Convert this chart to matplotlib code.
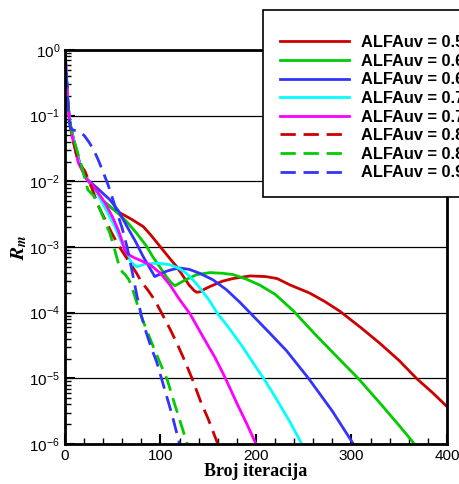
import numpy as np
import matplotlib
matplotlib.use("Agg")
import matplotlib.pyplot as plt
from matplotlib.ticker import LogLocator, MultipleLocator, NullFormatter

plt.rcParams['font.family'] = ['Liberation Sans', 'DejaVu Sans']
plt.rcParams['mathtext.fontset'] = 'custom'
plt.rcParams['mathtext.rm'] = 'Liberation Sans'
plt.rcParams['mathtext.it'] = 'Liberation Sans:italic'
plt.rcParams['mathtext.bf'] = 'Liberation Sans:bold'

# data: iteration and log10 of residual
labels = ['ALFAuv = 0.55', 'ALFAuv = 0.60', 'ALFAuv = 0.65', 'ALFAuv = 0.70',
          'ALFAuv = 0.75', 'ALFAuv = 0.80', 'ALFAuv = 0.85', 'ALFAuv = 0.90']

x_055 = [0, 1, 3, 5, 8, 12, 16, 22, 30, 40, 50, 60, 70, 82, 90, 100, 110, 117, 124, 130, 135, 138,
         142, 145, 152, 165, 176, 194, 210, 222, 236, 256, 272, 288, 310, 330, 350, 368, 385, 400]
r_055 = [0, -0.3, -0.8, -1.1, -1.3, -1.55, -1.75, -1.95, -2.1, -2.3, -2.42, -2.5, -2.58, -2.69,
         -2.82, -3.0, -3.18, -3.30, -3.45, -3.58, -3.66, -3.69, -3.68, -3.65, -3.60, -3.52, -3.48,
         -3.44, -3.45, -3.48, -3.58, -3.70, -3.83, -3.98, -4.23, -4.47, -4.73, -5.0, -5.22, -5.43]

x_060 = [0, 1, 3, 5, 8, 12, 16, 22, 30, 40, 47, 55, 65, 75, 85, 92, 100, 106, 111, 115, 120,
         126, 138, 152, 165, 176, 190, 204, 220, 239, 260, 280, 307, 330, 350, 366]
r_060 = [0, -0.3, -0.8, -1.1, -1.3, -1.55, -1.75, -1.95, -2.1, -2.3, -2.38, -2.48, -2.62, -2.79,
         -2.98, -3.15, -3.32, -3.45, -3.54, -3.59, -3.55, -3.50, -3.42, -3.39, -3.40, -3.42, -3.49,
         -3.58, -3.72, -3.97, -4.3, -4.6, -5.0, -5.38, -5.72, -6.0]

x_065 = [0, 1, 3, 5, 8, 12, 16, 24, 35, 47, 56, 65, 74, 82, 90, 94, 100, 106, 113, 120, 130,
         141, 155, 169, 183, 197, 215, 232, 255, 280, 302]
r_065 = [0, -0.3, -0.8, -1.1, -1.3, -1.6, -1.75, -1.98, -2.12, -2.28, -2.45, -2.69, -2.92, -3.15,
         -3.35, -3.45, -3.41, -3.37, -3.34, -3.32, -3.34, -3.40, -3.50, -3.65, -3.84, -4.05, -4.32,
         -4.58, -5.0, -5.5, -6.0]

x_070 = [0, 1, 3, 5, 8, 12, 16, 24, 35, 45, 52, 58, 66, 70, 75, 84, 92, 100, 110, 120, 127, 134,
         141, 151, 160, 170, 185, 200, 208, 220, 235, 248]
r_070 = [0, -0.3, -0.8, -1.1, -1.3, -1.6, -1.75, -1.98, -2.21, -2.49, -2.68, -2.89, -3.15, -3.24,
         -3.30, -3.26, -3.25, -3.25, -3.27, -3.33, -3.40, -3.50, -3.62, -3.81, -4.02, -4.2, -4.5,
         -4.83, -5.0, -5.28, -5.65, -6.0]

x_075 = [0, 1, 3, 5, 8, 14, 22, 28, 35, 42, 50, 56, 60, 63, 66, 72, 80, 90, 100, 110, 120, 131,
         145, 157, 168, 180, 190, 200]
r_075 = [0, -0.3, -0.8, -1.1, -1.35, -1.72, -1.95, -2.05, -2.18, -2.33, -2.55, -2.75, -2.92,
         -3.07, -3.11, -3.16, -3.21, -3.28, -3.40, -3.58, -3.80, -4.02, -4.38, -4.68, -5.0, -5.38,
         -5.68, -6.0]

x_080 = [0, 1, 3, 5, 8, 14, 21, 28, 35, 42, 49, 57, 66, 75, 80, 87, 94, 101, 110, 117, 125, 133,
         142, 150, 160]
r_080 = [0, -0.3, -0.8, -1.1, -1.35, -1.7, -1.85, -2.1, -2.38, -2.58, -2.79, -3.0, -3.2, -3.40,
         -3.53, -3.66, -3.81, -4.0, -4.25, -4.46, -4.72, -5.0, -5.35, -5.62, -6.0]

x_085 = [0, 1, 3, 5, 8, 12, 18, 24, 30, 36, 42, 47, 51, 56, 60, 63, 67, 72, 78, 85, 92, 100, 107,
         115, 122, 128]
r_085 = [0, -0.3, -0.8, -1.1, -1.3, -1.5, -1.8, -2.13, -2.22, -2.4, -2.62, -2.79, -2.99, -3.25,
         -3.38, -3.42, -3.5, -3.7, -3.98, -4.25, -4.5, -4.78, -5.02, -5.4, -5.72, -6.0]

x_090 = [0, 1, 2, 3, 4, 6, 9, 14, 20, 25, 30, 35, 40, 45, 50, 55, 60, 65, 70, 75, 80, 85, 90, 96,
         101, 106, 112, 120]
r_090 = [0, -0.25, -0.5, -0.8, -1.05, -1.2, -1.22, -1.24, -1.3, -1.4, -1.52, -1.68, -1.86, -2.05,
         -2.27, -2.5, -2.72, -3.0, -3.35, -3.72, -4.05, -4.3, -4.52, -4.75, -5.0, -5.25, -5.55, -6.0]

xs = [x_055, x_060, x_065, x_070, x_075, x_080, x_085, x_090]
rs = [r_055, r_060, r_065, r_070, r_075, r_080, r_085, r_090]
colors = ['#cc0000', '#00cc00', '#3333ff', '#00ffff', '#ff00ff', '#cc0000', '#00cc00', '#3333ff']
styles = ['-', '-', '-', '-', '-', '--', '--', '--']

fig = plt.figure(figsize=(4.6, 4.84), dpi=100)
ax = fig.add_axes([0.1413, 0.0826, 0.8304, 0.8141])

for x, r, c, ls, lab in zip(xs, rs, colors, styles, labels):
    line, = ax.plot(x, 10.0 ** np.array(r), color=c, lw=2.0, ls=ls, label=lab)
    if ls == '--':
        line.set_dashes([5.5, 2.8])

ax.set_yscale('log')
ax.set_xlim(0, 400)
ax.set_ylim(1e-6, 1)
ax.yaxis.set_major_locator(LogLocator(base=10, numticks=10))
ax.yaxis.set_minor_locator(LogLocator(base=10, subs=np.arange(2, 10), numticks=10))
ax.yaxis.set_minor_formatter(NullFormatter())
ax.xaxis.set_major_locator(MultipleLocator(100))
ax.xaxis.set_minor_locator(MultipleLocator(20))
ax.tick_params(which='both', direction='in', top=False, right=False, width=1.5, labelsize=11)
ax.tick_params(which='major', length=7)
ax.tick_params(which='minor', length=4, width=1)
ax.grid(axis='y', which='major', color='black', lw=0.9)
for s in ax.spines.values():
    s.set_linewidth(2)

ax.set_xlabel('Broj iteracija', family='Liberation Serif', fontweight='bold', fontsize=13, labelpad=0)
ax.set_ylabel('$\\mathbfit{R}_{\\mathbfit{m}}$', fontsize=14, labelpad=0, math_fontfamily='stix')

leg = fig.legend(loc='upper left', bbox_to_anchor=(0.572, 0.979), borderaxespad=0,
                 frameon=True, fancybox=False, edgecolor='black', framealpha=1,
                 handlelength=4.27, handletextpad=0.73, labelspacing=0.22, borderpad=1.0,
                 title=' ', title_fontsize=4, prop={'weight': 'bold', 'size': 11.8})
leg.get_frame().set_linewidth(1.2)

fig.savefig('out.png', dpi=100)
